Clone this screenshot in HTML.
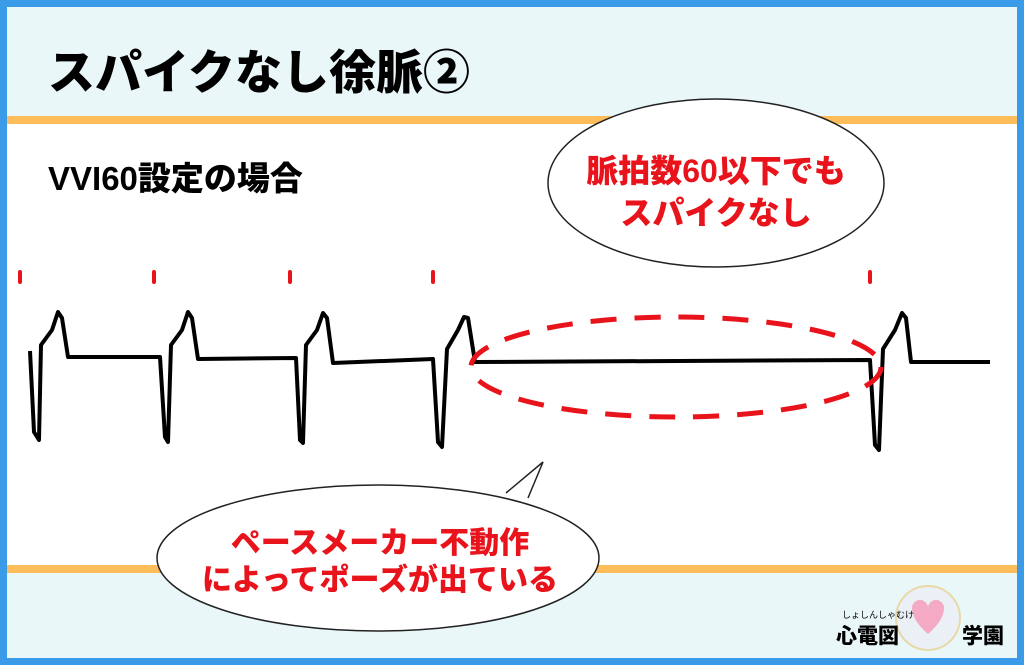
<!DOCTYPE html>
<html><head><meta charset="utf-8"><style>
html,body{margin:0;padding:0}
body{width:1024px;height:665px;position:relative;overflow:hidden;background:#3a9be8;font-family:"Liberation Sans","Noto Sans CJK JP",sans-serif}
.in{position:absolute;left:7px;top:7px;right:7px;bottom:7px;background:#fff}
.band{position:absolute;left:0;right:0;background:#eaf7f9}
.or{position:absolute;left:0;right:0;height:8px;background:#fdbd5a}
.t{position:absolute;font-weight:900;white-space:nowrap}
</style></head><body>
<div class="in">
 <div class="band" style="top:0;height:109px"></div>
 <div class="or" style="top:109px"></div>
 <div class="band" style="top:566px;bottom:0"></div>
 <div class="or" style="top:558px"></div>
</div>
<svg width="1024" height="665" style="position:absolute;left:0;top:0">
 <g stroke="#e8131b" stroke-width="4" stroke-linecap="round">
  <line x1="20" y1="272" x2="20" y2="282"/><line x1="154" y1="272" x2="154" y2="282"/>
  <line x1="290" y1="272" x2="290" y2="282"/><line x1="433" y1="272" x2="433" y2="282"/>
  <line x1="870" y1="272" x2="870" y2="282"/>
 </g>
 <g fill="none" stroke="#000" stroke-width="4" stroke-linejoin="round">
  <path d="M30,351 L34,432 L39,440 L41,345 L52,330 L58,312 L62,318 L68,357 L160,357 L165,437 L168,442 L171,345 L182,330 L188,312 L192,318 L198,359 L296,358 L300,440 L303,443 L306,345 L317,330 L323,313 L327,318 L333,363 L433,359 L438,442 L442,447 L447,349 L458,330 L464,317 L468,318 L475,362 L870,360 L875,445 L879,450 L883,349 L895,330 L902,313 L906,318 L911,362 L990,362"/>
 </g>
 <ellipse cx="676" cy="367" rx="205" ry="50" fill="none" stroke="#e8131b" stroke-width="5" stroke-dasharray="26,18"/>
 <ellipse cx="716" cy="183" rx="168" ry="84" fill="#fff" stroke="#222" stroke-width="1.5"/>
 <ellipse cx="378" cy="558" rx="221" ry="73" fill="#fff" stroke="#222" stroke-width="1.5"/>
 <path d="M508,497 L541,465 L527,501 Z" fill="#fff"/>
 <path d="M506,493 L543,462 L528,498" fill="none" stroke="#222" stroke-width="1.5"/>
 <circle cx="928" cy="618" r="32" fill="#eaf0f6" stroke="#e8d9a8" stroke-width="2"/>
 <path d="M912,608 a8,8 0 0,1 16,0 a8,8 0 0,1 16,0 q0,12 -16,26 q-16,-14 -16,-26z" fill="#f4a9c4"/>
</svg>
<div class="t" style="left:48px;top:34px;font-size:47px;color:#000">スパイクなし徐脈②</div>
<div class="t" style="left:48px;top:152px;font-size:33px;color:#000">VVI60設定の場合</div>
<div class="t" style="left:566px;top:150px;font-size:32px;color:#e8131b;width:300px;text-align:center;line-height:42px">脈拍数60以下でも<br>スパイクなし</div>
<div class="t" style="left:180px;top:525px;font-size:30px;color:#e8131b;width:400px;text-align:center;line-height:37px">ペースメーカー不動作<br>によってポーズが出ている</div>
<div class="t" style="left:842px;top:608px;font-size:9px;color:#000;font-weight:400">しょしんしゃむけ</div>
<div class="t" style="left:836px;top:620px;font-size:21px;color:#000">心電図</div>
<div class="t" style="left:962px;top:620px;font-size:21px;color:#000">学園</div>
</body></html>
